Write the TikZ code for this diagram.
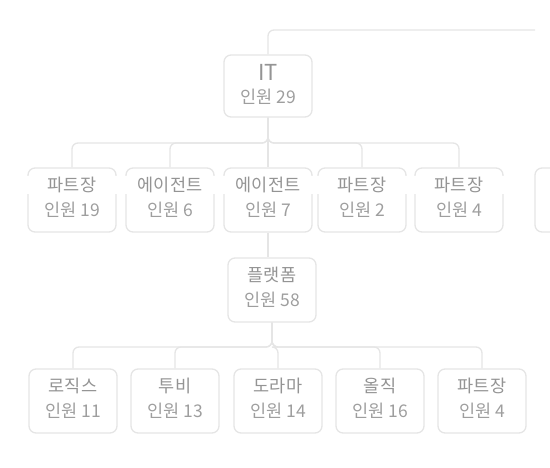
\documentclass[tikz,border=0pt]{standalone}
\usepackage{fontspec}
\setmainfont{Noto Sans CJK KR}

\begin{document}
\begin{tikzpicture}[x=1pt, y=-1pt,
    unit/.style={draw=black!10, line width=1.3pt, rounded corners=7pt,
        minimum width=88pt, minimum height=64pt},
    tag/.style={fill=white, text=black!42, inner ysep=1pt,
        font=\fontsize{17.5}{17.5}\selectfont},
    widetag/.style={tag, minimum width=94pt},
    count/.style={text=black!38, font=\fontsize{17.5}{17.5}\selectfont},
    link/.style={draw=black!10, line width=1.3pt, rounded corners=6pt}]

    \useasboundingbox (0,0) rectangle (550,467);

    % box with a label and a head count
    \def\unit#1#2#3#4#5#6{
        \node[unit] (#1) at (#2,#3) {};
        \node[#6] (#1-tag) at (#2,{#3-15}) {#4};
        \node[count] (#1-cnt) at (#2,{#3+10}) {#5};
    }

    % Top
    \node[unit, minimum height=62pt] (it) at (268,86) {};
    \node[tag, font=\fontsize{22}{22}\selectfont] (it-tag) at (268,72) {IT};
    \node[count] (it-cnt) at (268,97) {인원 29};
    \coordinate (top-end) at (535,30);
    \draw[link] (it.north) |- (top-end);

    % Parts
    \unit{p1}{72}{200}{파트장}{인원 19}{widetag}
    \unit{p2}{170}{200}{에이전트}{인원 6}{widetag}
    \unit{p3}{268}{200}{에이전트}{인원 7}{widetag}
    \unit{p4}{362}{200}{파트장}{인원 2}{widetag}
    \unit{p5}{459}{200}{파트장}{인원 4}{widetag}
    \node[unit] (p6) at (579,200) {};

    \coordinate (bus-a) at (268,143);
    \foreach \i in {1,...,5}
        \draw[link] (it.south) -- (bus-a) -| (p\i.north);

    % Middle
    \unit{mid}{272}{290}{플랫폼}{인원 58}{tag}
    \draw[link] (p3.south) -- (p3.south |- mid.north);

    % Bottom
    \unit{q1}{73}{401}{로직스}{인원 11}{tag}
    \unit{q2}{175}{401}{투비}{인원 13}{tag}
    \unit{q3}{278}{401}{도라마}{인원 14}{tag}
    \unit{q4}{380}{401}{올직}{인원 16}{tag}
    \unit{q5}{482}{401}{파트장}{인원 4}{tag}

    \coordinate (bus-b) at (272,347);
    \foreach \i in {1,...,5}
        \draw[link] (mid.south) -- (bus-b) -| (q\i.north);
\end{tikzpicture}
\end{document}
